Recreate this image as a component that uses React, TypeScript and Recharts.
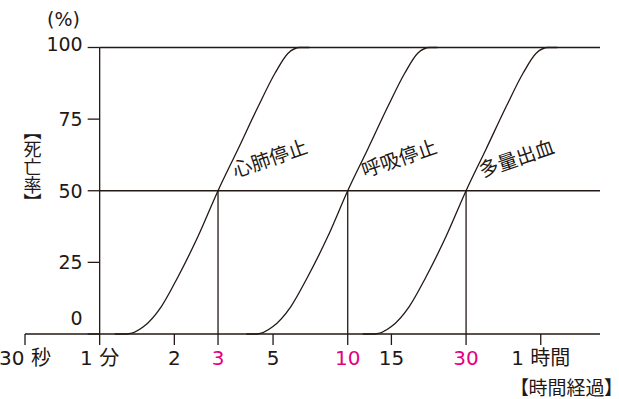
import React from 'react';
import { LineChart, Line, XAxis, YAxis, ReferenceLine, ReferenceDot } from 'recharts';

document.body.style.margin = '0';

// time axis (minutes, log scale)
const xTicks = [0.5, 1, 2, 3, 5, 10, 15, 30, 60];
const xTickLabels = ['30 秒', '1 分', '2', '3', '5', '10', '15', '30', '1 時間'];
const markedMinutes = [3, 10, 30];
const yTicks = [0, 25, 50, 75, 100];

// death rate (%) shared by the three curves, read at matching points
const deathRate = [0, 0, 2.5, 9.5, 20, 34, 50, 64.5, 79.3, 91, 98, 100, 100];
const cardiacMin = [1.15, 1.29, 1.5, 1.77, 2.07, 2.49, 3, 3.61, 4.35, 5.09, 5.75, 6.42, 7];
const respiratoryMin = [3.9, 4.3, 4.98, 5.89, 6.9, 8.31, 10, 12.04, 14.5, 16.97, 19.15, 21.41, 23];
const bleedingMin = [11.5, 12.9, 14.95, 17.67, 20.7, 24.9, 30, 36.1, 43.5, 50.9, 57.5, 64.2, 70];

const curveNames = ['心肺停止', '呼吸停止', '多量出血'];
const curveLabelMin = [3.52, 11.7, 34.8];
const curveLabelPct = 54.5;

const toSeries = (mins: number[]) => mins.map((t, i) => ({ t, p: deathRate[i] }));
const cardiac = toSeries(cardiacMin);
const respiratory = toSeries(respiratoryMin);
const bleeding = toSeries(bleedingMin);

const W = 619;
const H = 399;
const X_MIN = 0.5;
const X_MAX = 104;
const M = { top: 47.5, right: 19, left: 25, bottom: 0 };
const PLOT_W = W - M.left - M.right;
const xPx = (t: number) => M.left + (PLOT_W * Math.log(t / X_MIN)) / Math.log(X_MAX / X_MIN);
const AXIS_X = xPx(1);

const INK = '#231815';
const MAGENTA = '#E4007F';
const FONT = "'DejaVu Sans', 'Noto Sans CJK JP', sans-serif";
const JP = "'Noto Sans CJK JP', sans-serif";

const XTick = (props: any) => {
  const { x, y, payload } = props;
  const i = xTicks.indexOf(payload.value);
  const color = markedMinutes.includes(payload.value) ? MAGENTA : INK;
  return (
    <text x={x} y={y + 18} textAnchor="middle" fontSize={20} fill={color} fontFamily={FONT}>
      {xTickLabels[i]}
    </text>
  );
};

const YTick = (props: any) => {
  const { y, payload } = props;
  const v = payload.value;
  const dy = v === 0 ? -16 : v === 100 ? -4 : 0;
  return (
    <g>
      <line x1={AXIS_X - 12} x2={AXIS_X} y1={y} y2={y} stroke={INK} strokeWidth={1.3} />
      <text x={AXIS_X - 17} y={y + dy + 7} textAnchor="end" fontSize={19} fill={INK} fontFamily={FONT}>
        {v}
      </text>
    </g>
  );
};

const curveLabel = (name: string) => (props: any) => {
  const { x, y } = props.viewBox;
  return (
    <text x={x} y={y} transform={`rotate(-19 ${x} ${y})`} fontSize={19.5} fill={INK} fontFamily={JP}>
      {name}
    </text>
  );
};

const lineProps = { stroke: INK, strokeWidth: 1.3 };

export default function App() {
  return (
    <div style={{ position: 'relative', width: W, height: H, background: '#fff' }}>
      <LineChart width={W} height={H} margin={M}>
        <XAxis
          type="number"
          dataKey="t"
          scale="log"
          domain={[X_MIN, X_MAX]}
          ticks={xTicks}
          interval={0}
          height={65}
          stroke={INK}
          strokeWidth={1.3}
          tickSize={11}
          tick={<XTick />}
        />
        <YAxis
          type="number"
          domain={[0, 100]}
          ticks={yTicks}
          interval={0}
          mirror
          axisLine={false}
          tickLine={false}
          tick={<YTick />}
        />
        <ReferenceLine segment={[{ x: 1, y: 0 }, { x: 1, y: 100 }]} {...lineProps} />
        <ReferenceLine segment={[{ x: 1, y: 100 }, { x: X_MAX, y: 100 }]} {...lineProps} />
        <ReferenceLine segment={[{ x: 1, y: 50 }, { x: X_MAX, y: 50 }]} {...lineProps} />
        {markedMinutes.map((m) => (
          <ReferenceLine key={m} segment={[{ x: m, y: 0 }, { x: m, y: 50 }]} {...lineProps} />
        ))}
        <Line data={cardiac} dataKey="p" type="monotone" dot={false} isAnimationActive={false} {...lineProps} />
        <Line data={respiratory} dataKey="p" type="monotone" dot={false} isAnimationActive={false} {...lineProps} />
        <Line data={bleeding} dataKey="p" type="monotone" dot={false} isAnimationActive={false} {...lineProps} />
        {curveNames.map((n, i) => (
          <ReferenceDot
            key={n}
            x={curveLabelMin[i]}
            y={curveLabelPct}
            r={0}
            fill="none"
            stroke="none"
            label={{ content: curveLabel(n) }}
          />
        ))}
      </LineChart>
      <div
        style={{ position: 'absolute', left: 47, top: 10, fontSize: 19, lineHeight: 1, color: INK, fontFamily: FONT }}
      >
        (%)
      </div>
      <div
        style={{
          position: 'absolute',
          left: 23.5,
          top: 131,
          fontSize: 18,
          lineHeight: 1,
          color: INK,
          fontFamily: JP,
          writingMode: 'vertical-rl',
          fontFeatureSettings: '"vpal"',
        }}
      >
        【死亡率】
      </div>
      <div
        style={{
          position: 'absolute',
          right: 5,
          top: 377,
          fontSize: 19,
          lineHeight: 1,
          color: INK,
          fontFamily: JP,
          fontFeatureSettings: '"palt"',
        }}
      >
        【時間経過】
      </div>
    </div>
  );
}
